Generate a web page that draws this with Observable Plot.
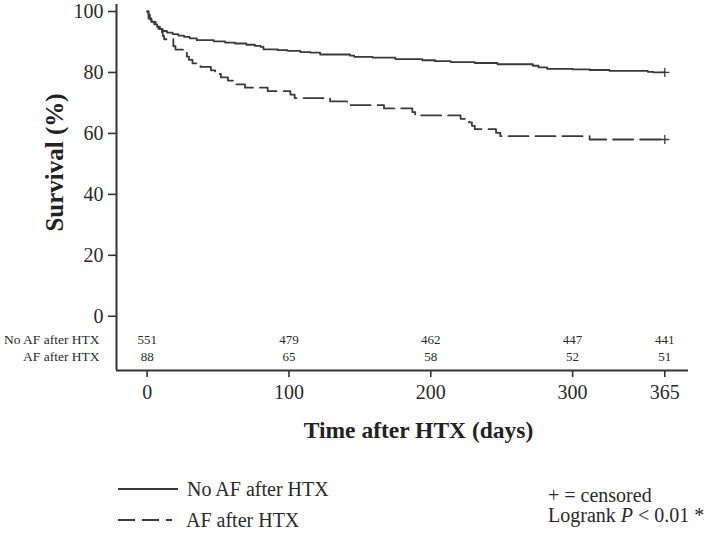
<!DOCTYPE html>
<html>
<head>
<meta charset="utf-8">
<script src="https://cdn.jsdelivr.net/npm/d3@7"></script>
<script src="https://cdn.jsdelivr.net/npm/@observablehq/plot@0.6"></script>
<style>
  html, body { margin: 0; padding: 0; background: #fff; }
  #wrap { position: relative; width: 709px; height: 535px; font-family: "Liberation Serif", "DejaVu Serif", serif; color: #2a2a2a; }
  #chart svg { display: block; }
  .leg { position: absolute; font-size: 20px; line-height: 1; white-space: nowrap; }
</style>
</head>
<body>
<div id="wrap">
  <div id="chart"></div>
  <svg class="leg" style="left:116px; top:480px;" width="66" height="50">
    <line x1="2" y1="9" x2="62" y2="9" stroke="#3a3a3a" stroke-width="1.8"/>
    <line x1="2" y1="40" x2="56" y2="40" stroke="#3a3a3a" stroke-width="1.8" stroke-dasharray="17,7"/>
  </svg>
  <div class="leg" style="left:187px; top:479px;">No AF after HTX</div>
  <div class="leg" style="left:186px; top:510px;">AF after HTX</div>
  <div class="leg" style="left:548px; top:485px;">+ = censored</div>
  <div class="leg" style="left:548px; top:505px;">Logrank <i>P</i> &lt; 0.01 *</div>
</div>
<script>
// Kaplan-Meier: No AF after HTX
const noAFDays = [0,1,2,3,5,7,9,11,14,18,22,26,30,35,47,55,62,70,76,80,82,92,99,108,115,122,143,146,159,175,194,203,214,231,247,272,276,282,300,312,326,353,357,365];
const noAFSurv = [100,98.9,97.5,96.7,95.8,95.0,94.2,93.6,93.1,92.6,92.1,91.7,91.2,90.6,90.2,89.8,89.5,89.1,88.7,88.4,87.6,87.3,87.1,86.7,86.5,85.9,85.5,85.1,84.9,84.4,84.0,83.7,83.4,83.1,82.7,82.2,81.7,81.2,81.0,80.8,80.5,80.2,80.0,80.0];
// Kaplan-Meier: AF after HTX
const afDays = [0,1,3,6,8,10.5,11,12,18.5,20,27,28,29.5,32,37.6,45,48,52,57,61,69,85,101,104,129,141,167,187,189,221,227,229,231,246,249,312,365];
const afSurv = [100,97.7,96.6,95.5,94.3,93.2,92.0,90.9,88.6,87.5,86.4,85.2,84.1,83.0,81.8,80.7,79.5,78.4,77.3,76.1,75.0,73.9,72.7,71.6,70.5,69.3,68.2,67.0,65.9,64.8,63.6,62.5,61.4,60.2,59.1,58.0,58.0];
// Censored marks at end of follow-up
const censorDays = [365, 365];
const censorSurv = [80.0, 58.0];
// Number at risk
const riskTimes = [0, 100, 200, 300, 365];
const riskNoAF = [551, 479, 462, 447, 441];
const riskAF = [88, 65, 58, 52, 51];
const rowLabels = ["No AF after HTX", "AF after HTX"];
// Axis ticks
const xTicks = [0, 100, 200, 300, 365];
const yTicks = [0, 20, 40, 60, 80, 100];

const noAF = noAFDays.map((d, i) => ({day: d, surv: noAFSurv[i]}));
const af = afDays.map((d, i) => ({day: d, surv: afSurv[i]}));
const censored = censorDays.map((d, i) => ({day: d, surv: censorSurv[i]}));

const xMin = -21.6, xMax = 381.7, yMin = -17.8, yMax = 102.3;
const rowY = [-7.6, -13.4];
const ink = "#333";

const chart = Plot.plot({
  width: 709,
  height: 455,
  marginLeft: 116,
  marginRight: 21,
  marginTop: 4,
  marginBottom: 85,
  style: {fontFamily: "Liberation Serif, serif", color: "#2a2a2a", background: "#fff"},
  x: {domain: [xMin, xMax]},
  y: {domain: [yMin, yMax]},
  marks: [
    Plot.ruleX([xMin], {y1: yMin, y2: yMax, stroke: ink, strokeWidth: 2}),
    Plot.ruleY([yMin], {x1: xMin, x2: xMax, stroke: ink, strokeWidth: 2}),
    Plot.axisY({ticks: yTicks, tickSize: 8, tickPadding: 5, fontSize: 20, label: null, stroke: ink, strokeWidth: 1.6}),
    Plot.axisX({ticks: xTicks, tickSize: 7, tickPadding: 7, fontSize: 20, label: null, stroke: ink, strokeWidth: 1.6}),
    Plot.line(noAF, {x: "day", y: "surv", curve: "step-after", stroke: "#3a3a3a", strokeWidth: 1.8}),
    Plot.line(af, {x: "day", y: "surv", curve: "step-after", stroke: "#3a3a3a", strokeWidth: 1.8, strokeDasharray: "20,7"}),
    Plot.dot(censored, {x: "day", y: "surv", symbol: "plus", r: 3, stroke: "#3a3a3a", strokeWidth: 1.3}),
    Plot.text(riskTimes, {x: d => d, y: () => rowY[0], text: (d, i) => String(riskNoAF[i]), fontSize: 13, fill: "#2a2a2a"}),
    Plot.text(riskTimes, {x: d => d, y: () => rowY[1], text: (d, i) => String(riskAF[i]), fontSize: 13, fill: "#2a2a2a"}),
    Plot.text(rowLabels, {x: () => xMin, y: (d, i) => rowY[i], text: d => d, dx: -17, textAnchor: "end", fontSize: 13.5, fill: "#2a2a2a"}),
    Plot.text(["Time after HTX (days)"], {frameAnchor: "bottom", dx: 16, dy: 60, textAnchor: "middle", fontSize: 23.5, fontWeight: "bold", fill: "#222", lineAnchor: "middle"}),
    Plot.text(["Survival (%)"], {frameAnchor: "left", dx: -62, dy: -25, rotate: -90, textAnchor: "middle", fontSize: 25, fontWeight: "bold", fill: "#222", lineAnchor: "middle"})
  ]
});
document.getElementById("chart").appendChild(chart);
</script>
</body>
</html>
